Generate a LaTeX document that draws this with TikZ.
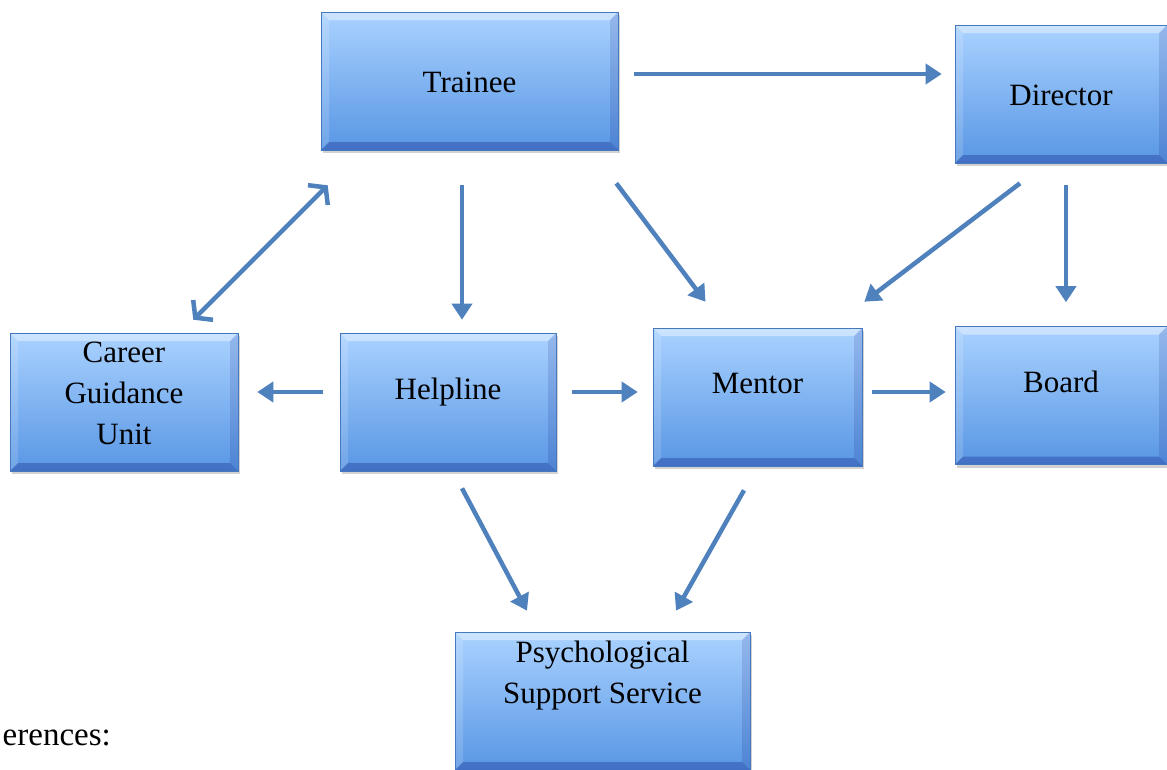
\documentclass[tikz,border=0pt]{standalone}
\usepackage{fontspec}
\setmainfont{Liberation Serif}
\usetikzlibrary{arrows.meta,shadows}
\definecolor{arrblue}{RGB}{79,129,189}
\definecolor{boxtop}{RGB}{170,210,255}
\definecolor{boxbot}{RGB}{88,150,228}
\definecolor{boxedge}{RGB}{70,120,190}
\newcommand{\shiftup}[2]{\raisebox{#1}[\height][\depth]{#2}}
\tikzset{
  box/.style={rectangle, minimum width=#1, minimum height=138pt, inner sep=0pt,
    top color=boxtop, bottom color=boxbot, draw=boxedge, line width=0.6pt,
    align=center, font=\fontsize{31}{41}\selectfont,
    drop shadow={shadow xshift=1.5pt, shadow yshift=-3pt, opacity=0.35},
    path picture={
      \coordinate (nw) at (path picture bounding box.north west);
      \coordinate (ne) at (path picture bounding box.north east);
      \coordinate (sw) at (path picture bounding box.south west);
      \coordinate (se) at (path picture bounding box.south east);
      \fill[white,opacity=0.4] (nw) -- (ne) -- ([xshift=-8pt,yshift=-8pt]ne) -- ([xshift=8pt,yshift=-8pt]nw) -- cycle;
      \fill[white,opacity=0.15] (nw) -- (sw) -- ([xshift=8pt,yshift=8pt]sw) -- ([xshift=8pt,yshift=-8pt]nw) -- cycle;
      \fill[black!60!blue,opacity=0.12] (ne) -- (se) -- ([xshift=-8pt,yshift=8pt]se) -- ([xshift=-8pt,yshift=-8pt]ne) -- cycle;
      \fill[black!60!blue,opacity=0.25] (sw) -- (se) -- ([xshift=-8pt,yshift=8pt]se) -- ([xshift=8pt,yshift=8pt]sw) -- cycle;
    }},
  box/.default=212pt,
  arr/.style={draw=arrblue, line width=4.5pt, -{Triangle[length=16pt,width=20pt]}},
  darr/.style={draw=arrblue, line width=4.5pt, {Straight Barb[length=11pt,width=28pt,line width=4.5pt]}-{Straight Barb[length=11pt,width=28pt,line width=4.5pt]}}
}
\begin{document}
\begin{tikzpicture}[x=1pt,y=-1pt]
\clip (0,0) rectangle (1167,769);
\fill[white] (0,0) rectangle (1167,769);

\node[box=297pt] (trainee) at (469.5,81) {\shiftup{-1pt}{Trainee}};
\node[box] (director) at (1061,94) {\shiftup{-1pt}{Director}};
\node[box=228pt] (career) at (124,402) {\shiftup{7pt}{\begin{tabular}{@{}c@{}}Career\\Guidance\\Unit\end{tabular}}};
\node[box=216pt] (helpline) at (448,402) {\shiftup{10pt}{Helpline}};
\node[box=209pt] (mentor) at (757.5,397) {\shiftup{14pt}{Mentor}};
\node[box] (board) at (1061,395.5) {\shiftup{14pt}{Board}};
\node[box=295pt] (psych) at (602.5,701) {\shiftup{26pt}{\begin{tabular}{@{}c@{}}Psychological\\Support Service\end{tabular}}};

\node[anchor=base east, font=\fontsize{33}{40}\selectfont, inner sep=0pt] (refs) at (111,745) {erences:};

\draw[arr] ([xshift=16pt,yshift=7pt]trainee.east) -- ([xshift=-13pt,yshift=20pt]director.west);
\draw[arr] ([xshift=-7.5pt,yshift=-35pt]trainee.south) -- ([xshift=14pt,yshift=13pt]helpline.north);
\draw[arr] ([xshift=-2pt,yshift=-33pt]trainee.south east) -- ([xshift=-52pt,yshift=26pt]mentor.north);
\draw[arr] ([xshift=-41pt,yshift=-20pt]director.south) -- ([xshift=2pt,yshift=26pt]mentor.north east);
\draw[arr] ([xshift=5pt,yshift=-22pt]director.south) -- ([xshift=5pt,yshift=24pt]board.north);
\draw[darr] ([xshift=-45pt,yshift=13pt]career.north east) -- ([xshift=7pt,yshift=-35pt]trainee.south west);
\draw[arr] ([xshift=-17pt,yshift=10pt]helpline.west) -- ([xshift=19pt,yshift=10pt]career.east);
\draw[arr] ([xshift=16pt,yshift=10pt]helpline.east) -- ([xshift=-15pt,yshift=5pt]mentor.west);
\draw[arr] ([xshift=10pt,yshift=5pt]mentor.east) -- ([xshift=-9pt,yshift=3.5pt]board.west);
\draw[arr] ([xshift=14pt,yshift=-17pt]helpline.south) -- ([xshift=-75.5pt,yshift=21pt]psych.north);
\draw[arr] ([xshift=-13.5pt,yshift=-24pt]mentor.south) -- ([xshift=73.5pt,yshift=21pt]psych.north);
\end{tikzpicture}
\end{document}
